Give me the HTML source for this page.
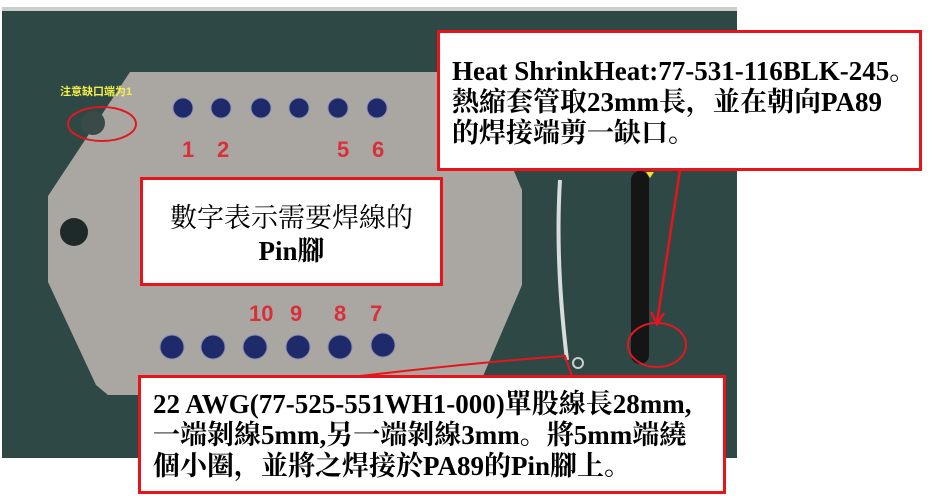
<!DOCTYPE html>
<html><head><meta charset="utf-8"><style>
body{margin:0;width:939px;height:496px;background:#fff;position:relative;overflow:hidden;font-family:"Liberation Serif","Noto Serif CJK SC",serif;}
.box{position:absolute;background:#fff;border:3px solid #e8141c;box-sizing:border-box;color:#000;font-weight:bold;white-space:nowrap;}
</style></head><body>
<svg width="939" height="496" style="position:absolute;left:0;top:0">
<rect x="2" y="7" width="735" height="451" fill="#2e4846"/>
<rect x="2" y="7" width="735" height="4" fill="#ccc"/>
<polygon points="130,72 472,72 522,190 522,285 475,395 108,395 96,385 48,282 48,196" fill="#aaa7a3"/>
<circle cx="74" cy="232" r="14" fill="#1e2a2a"/>
<circle cx="93" cy="123" r="12" fill="#3a4a48"/>
<ellipse cx="102" cy="124" rx="34" ry="17" fill="none" stroke="#e01820" stroke-width="2"/>
<text x="60" y="95" font-family="Liberation Sans,Noto Sans CJK SC,sans-serif" font-size="11" font-weight="bold" fill="#f4ee4a">注意缺口端为1</text>
<g fill="#1f2a6a" stroke="#8a90b0" stroke-width="1">
<circle cx="183" cy="108" r="10"/><circle cx="221" cy="108" r="10"/><circle cx="261" cy="108" r="10"/><circle cx="299" cy="108" r="10"/><circle cx="338" cy="108" r="10"/><circle cx="377" cy="108" r="10"/>
<circle cx="172" cy="347" r="12"/><circle cx="213" cy="347" r="12"/><circle cx="255" cy="347" r="12"/><circle cx="298" cy="347" r="12"/><circle cx="340" cy="347" r="12"/><circle cx="383" cy="345" r="12"/>
</g>
<g font-family="Liberation Sans,sans-serif" font-size="22" font-weight="bold" fill="#d8303a">
<text x="182" y="157">1</text><text x="217" y="157">2</text><text x="337" y="157">5</text><text x="372" y="157">6</text>
<text x="249" y="321">10</text><text x="290" y="321">9</text><text x="334" y="321">8</text><text x="370" y="321">7</text>
</g>
<path d="M560,180 Q555,260 567,360" stroke="#d8dcdc" stroke-width="4" fill="none"/>
<circle cx="578" cy="363" r="5" fill="none" stroke="#ccc" stroke-width="2"/>
<path d="M640,180 L640,355" stroke="#151515" stroke-width="18" stroke-linecap="round"/>
<polygon points="646,172 654,172 650,178" fill="#f2e030"/>
<ellipse cx="657" cy="345" rx="29" ry="22" fill="none" stroke="#e01820" stroke-width="2"/>
<line x1="680" y1="170" x2="657" y2="322" stroke="#e8141c" stroke-width="2.5"/>
<polyline points="651,312 657,324 664,313" fill="none" stroke="#e8141c" stroke-width="2.5"/>
<path d="M360,376 Q480,362 565,356 L572,376" fill="none" stroke="#e8141c" stroke-width="2"/>
</svg>
<div class="box" style="left:437px;top:30px;width:485px;height:141px;padding:23px 0 0 12px;font-size:27px;line-height:31px;">Heat ShrinkHeat:77-531-116BLK-245。<br>熱縮套管取23mm長，並在朝向PA89<br>的焊接端剪一缺口。</div>
<div class="box" style="left:140px;top:177px;width:303px;height:109px;padding:22px 0 0 0;text-align:center;font-size:27px;line-height:33px;font-weight:normal;">數字表示需要焊線的<br><b>Pin腳</b></div>
<div class="box" style="left:138px;top:375px;width:588px;height:119px;padding:11px 0 0 12px;font-size:27px;line-height:31px;">22 AWG(77-525-551WH1-000)單股線長28mm,<br>一端剝線5mm,另一端剝線3mm。將5mm端繞<br>個小圈，並將之焊接於PA89的Pin腳上。</div>
</body></html>
